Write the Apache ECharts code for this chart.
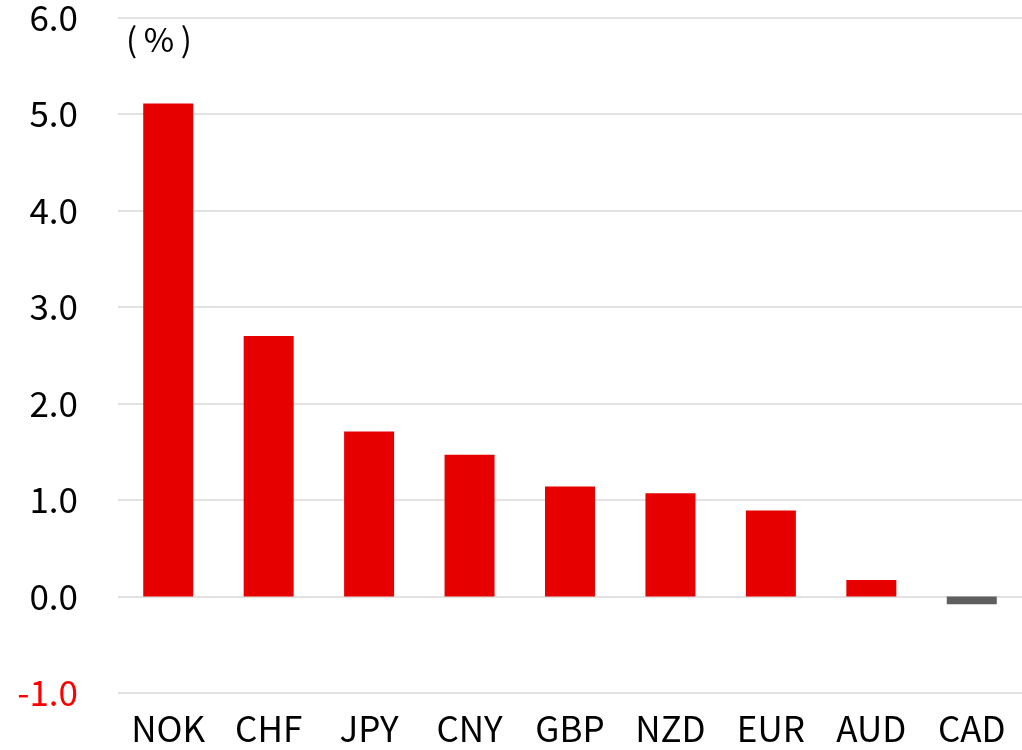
<!DOCTYPE html>
<html>
<head>
<meta charset="utf-8">
<script src="https://cdn.jsdelivr.net/npm/echarts@6/dist/echarts.min.js"></script>
<style>
html,body{margin:0;padding:0;background:#fff;}
#chart{width:1022px;height:750px;}
</style>
</head>
<body>
<div id="chart"></div>
<script>
const categories = ['NOK','CHF','JPY','CNY','GBP','NZD','EUR','AUD','CAD'];
const values = [5.11, 2.70, 1.71, 1.47, 1.14, 1.07, 0.89, 0.17, -0.08];
const unitLabel = '(\u2009%\u2009)';

const FONT = '"Noto Sans CJK JP","Noto Sans",sans-serif';
const chart = echarts.init(document.getElementById('chart'), null, {renderer:'canvas'});
chart.setOption({
  animation:false,
  backgroundColor:'#fff',
  grid:{left:118, right:0, top:17, bottom:57, containLabel:false},
  graphic:[{type:'text', left:126, top:23, style:{text:unitLabel, font:'33px '+FONT, fill:'#000'}}],
  xAxis:{
    type:'category', data:categories,
    axisLine:{show:false}, axisTick:{show:false},
    axisLabel:{color:'#000', fontSize:35, fontFamily:FONT, margin:18}
  },
  yAxis:{
    type:'value', min:-1, max:6, interval:1,
    axisLine:{show:false}, axisTick:{show:false},
    splitLine:{lineStyle:{color:'#d9d9d9', width:1.5}},
    axisLabel:{fontSize:35, fontFamily:FONT, margin:40,
      formatter:v=>v.toFixed(1),
      color:v=>(Number(v)<0?'#ff0000':'#000')}
  },
  series:[{
    type:'bar', barWidth:50,
    data:values.map(v=>({value:v, itemStyle:{color: v<0 ? '#5f5f5f' : '#e60000'}}))
  }]
});
</script>
</body>
</html>
